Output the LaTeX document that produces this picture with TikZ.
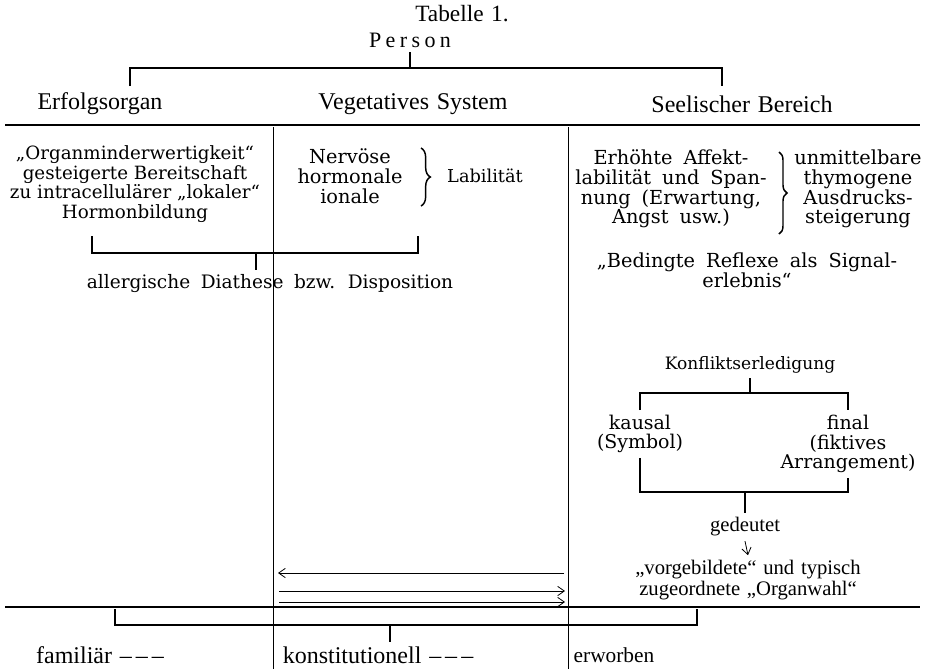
\documentclass[tikz,border=0pt]{standalone}
\usepackage{fontspec}
\setmainfont{DejaVu Serif}
\newfontfamily\widefont[WordSpace=1.8]{DejaVu Serif}
\newfontfamily\headfont[WordSpace=1.3]{Liberation Serif}
\newfontfamily\spacedfont[LetterSpace=20]{Liberation Serif}
\usetikzlibrary{decorations.pathreplacing,arrows.meta}
\tikzset{
	body/.style={align=center, font=\fontsize{#1}{14.8}\selectfont},
	body/.default=14.5,
	wide/.style={align=center, font=\widefont\fontsize{#1}{14.8}\selectfont},
	wide/.default=14.5,
	head/.style={align=center, font=\headfont\fontsize{#1}{16}\selectfont},
	head/.default=18,
	spaced/.style={font=\spacedfont\fontsize{16.5}{18}\selectfont},
	bracket/.style={line width=1.3pt},
	rule/.style={line width=2.2pt},
	column/.style={line width=0.5pt},
	pointer/.style={-{Straight Barb[length=5pt,width=7pt]}, line width=0.6pt},
	curly/.style={line width=1.1pt, decorate, decoration={brace, amplitude=#1}}
}
\begin{document}
\begin{tikzpicture}[x=0.75pt, y=-0.75pt]
	\useasboundingbox (0,0) rectangle (929,669);

	% Draw the title and the person
	\node[head=17.5] (tab) at (462,14) {Tabelle 1.};
	\node[spaced] (person) at (410,40) {Person};

	% Draw the bracket below the person
	\coordinate (pj) at (410,68);
	\coordinate (legE) at (130,86);
	\coordinate (legS) at (722,86);
	\draw[bracket] (person.south) -- (pj);
	\draw[bracket] (legE) |- (pj) -| (legS);

	% Draw the three fields
	\node[head] (erfolg) at (100,104) {Erfolgsorgan};
	\node[head] (veget) at (413,104) {Vegetatives System};
	\node[head] (seele) at (742,104) {Seelischer Bereich};

	% Draw the rules and the columns
	\coordinate (ruleA) at (5,125);
	\coordinate (ruleB) at (920,125);
	\coordinate (ruleC) at (5,607);
	\coordinate (ruleD) at (920,607);
	\draw[rule] (ruleA) -- (ruleB);
	\draw[rule] (ruleC) -- (ruleD);
	\coordinate (colA) at (273,127);
	\coordinate (colB) at (568,127);
	\draw[column] (colA) -- ++(0,542);
	\draw[column] (colB) -- ++(0,542);

	% Draw the left field
	\node[body=13.7] (organ) at (135,184) {„Organminderwertigkeit“\\gesteigerte Bereitschaft\\zu intracellulärer „lokaler“\\Hormonbildung};
	\node[body] (nerv) at (350,176) {Nervöse\\hormonale\\ionale};
	\coordinate (braceA) at (421,148);
	\coordinate (braceB) at (421,206);
	\draw[curly=7pt] (braceA) -- (braceB);
	\node[body=13.3] (labil) at (485,176) {Labilität};

	% Draw the bracket to the diathesis
	\coordinate (hj) at (256,253);
	\coordinate (legO) at (92,236);
	\coordinate (legN) at (418,236);
	\draw[bracket] (legO) |- (hj) -| (legN);
	\node[wide=13.9] (allerg) at (270,284) {allergische Diathese bzw. Disposition};
	\draw[bracket] (hj) -- (hj |- allerg.north);

	% Draw the right field
	\node[wide] (affekt) at (671,189) {Erhöhte Affekt-\\labilität und Span-\\nung (Erwartung,\\Angst usw.)};
	\coordinate (braceC) at (779,152);
	\coordinate (braceD) at (779,234);
	\draw[curly=6pt] (braceC) -- (braceD);
	\node[body] (ausdruck) at (858,189) {unmittelbare\\thymogene\\Ausdrucks-\\steigerung};
	\node[wide] (reflex) at (747,270) {„Bedingte Reflexe als Signal-\\erlebnis“};

	% Draw the settling of the conflict
	\node[body=12.8] (konflikt) at (750,365) {Konfliktserledigung};
	\node[body=14.2] (kausal) at (640,434) {kausal\\(Symbol)};
	\node[body=14.2] (final) at (848,444) {final\\(fiktives\\Arrangement)};
	\coordinate (kj) at (750,393);
	\coordinate (legK) at (640,410);
	\coordinate (legF) at (848,410);
	\draw[bracket] (konflikt.south) -- (kj);
	\draw[bracket] (legK) |- (kj) -| (legF);
	\coordinate (gj) at (745,492);
	\draw[bracket] (kausal.south) |- (gj) -| (final.south);
	\node[head=15.5] (deut) at (745,527) {gedeutet};
	\draw[bracket] (gj) -- (deut.north);
	\node[head=15.5] (wahl) at (748,580) {„vorgebildete“ und typisch\\zugeordnete „Organwahl“};
	\draw[pointer] (deut.south) -- (wahl.north);

	% Draw the arrows between the columns
	\coordinate (arrA) at (564,573);
	\coordinate (arrB) at (278,573);
	\coordinate (arrC) at (279,591);
	\coordinate (arrD) at (565,591);
	\coordinate (arrE) at (279,602);
	\coordinate (arrF) at (565,602);
	\draw[pointer] (arrA) -- (arrB);
	\draw[pointer] (arrC) -- (arrD);
	\draw[pointer] (arrE) -- (arrF);

	% Draw the bracket to the bottom labels
	\node[head] (famil) at (100,655) {familiär –\,–\,–};
	\node[head] (konst) at (378,655) {konstitutionell –\,–\,–};
	\node[head=16] (erworb) at (614,655) {erworben};
	\coordinate (bj) at (390,625);
	\coordinate (legL) at (115,609);
	\coordinate (legR) at (697,609);
	\draw[bracket] (legL) |- (bj) -| (legR);
	\draw[bracket] (bj) -- (bj |- konst.north);
\end{tikzpicture}
\end{document}
